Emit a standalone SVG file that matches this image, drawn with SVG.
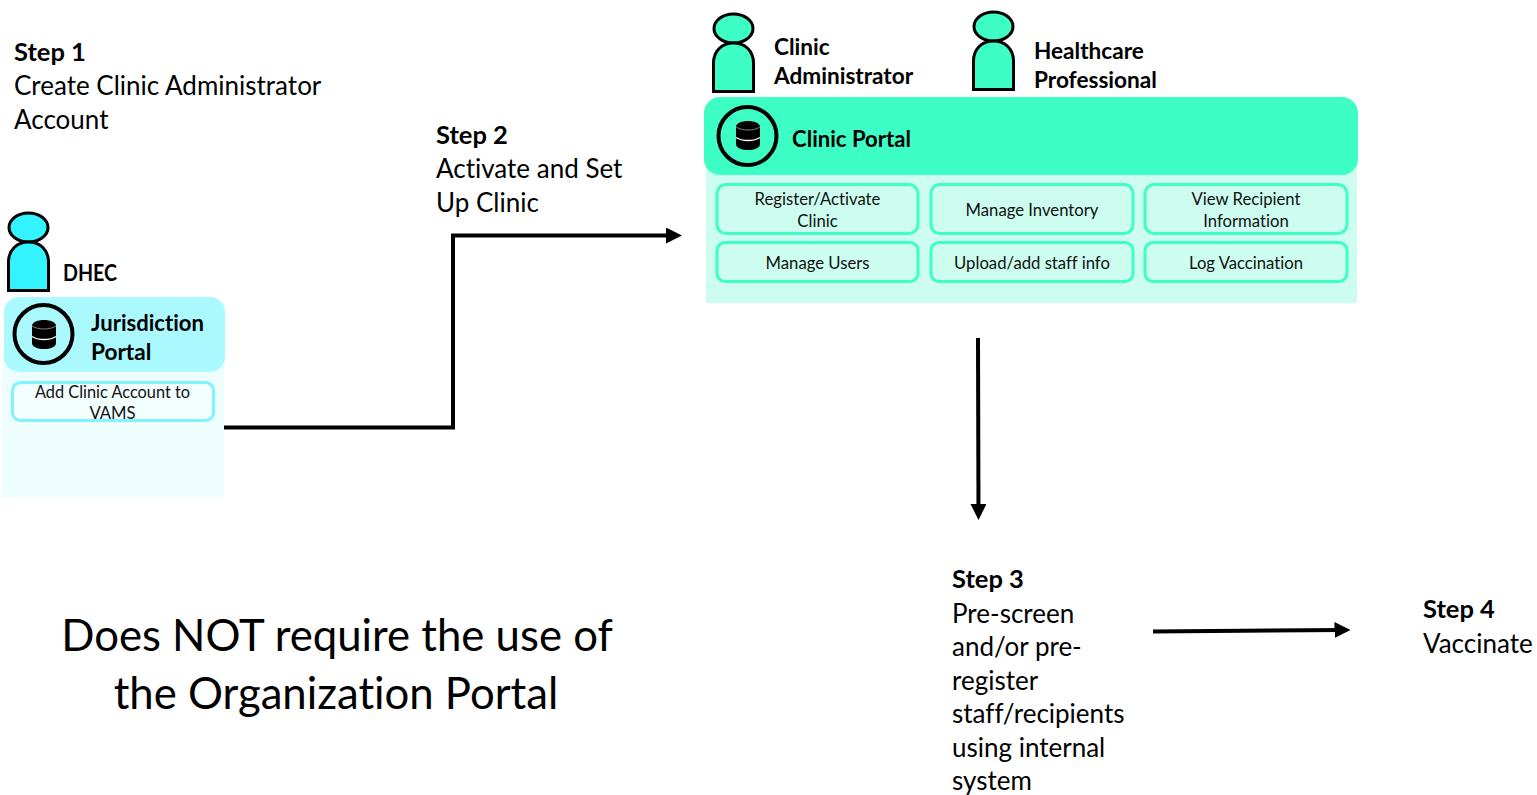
<svg xmlns="http://www.w3.org/2000/svg" width="1537" height="795" viewBox="0 0 1537 795">
<style>
text{font-family:Lato,"Liberation Sans",sans-serif;fill:#000;font-variant-ligatures:none}
.b{font-weight:700}
.h{font-size:22.600px}
.st{font-size:25.500px}
.t{font-size:26px}
.s{font-size:16.700px;text-anchor:middle;fill:#111}
.c{stroke:#000;stroke-width:4;fill:none}
.m{fill:#ccfdee;stroke:#3dffc5;stroke-width:3}
.p{stroke:#000;stroke-width:3}
.ring{fill:none;stroke:#000;stroke-width:4}
</style>
<defs>
<marker id="a" markerUnits="userSpaceOnUse" markerWidth="18" markerHeight="18" refX="8" refY="8" orient="auto"><path d="M0 0L16 8L0 16Z" fill="#000"/></marker>
<g id="db"><path d="M-12 -9C-12 -17 12 -17 12 -9V8C12 16 -12 16 -12 8Z" fill="#000"/><path d="M-12 1.500C-6 5.500 6 5.500 12 1.500" fill="none" stroke="#fff" stroke-width="1.500"/><path d="M-12 -9C-6 -5 6 -5 12 -9" fill="none" stroke="#fff" stroke-width="0.500"/></g>
<g id="person"><ellipse cx="20.500" cy="15.500" rx="19.500" ry="14.500"/><path d="M0.500 78.500V50C0.500 38 9 30 20.500 30S40.500 38 40.500 50V78.500Z"/></g>
</defs>

<g id="step1"><text class="st b" x="14" y="61">Step 1</text><text class="t" x="14" y="95">Create Clinic Administrator</text><text class="t" x="14" y="129">Account</text></g>
<g id="step2"><text class="st b" x="436" y="144">Step 2</text><text class="t" x="436" y="178">Activate and Set</text><text class="t" x="436" y="212">Up Clinic</text></g>
<g id="step3"><text class="st b" x="952" y="588">Step 3</text><text class="t" x="952" y="623">Pre-screen</text><text class="t" x="952" y="656">and/or pre-</text><text class="t" x="952" y="690">register</text><text class="t" x="952" y="723">staff/recipients</text><text class="t" x="952" y="757">using internal</text><text class="t" x="952" y="790">system</text></g>
<g id="step4"><text class="st b" x="1423" y="618">Step 4</text><text class="t" x="1423" y="653">Vaccinate</text></g>
<g id="note"><text x="337" y="651" font-size="43.700" text-anchor="middle">Does NOT require the use of</text><text x="336" y="709" font-size="43.700" text-anchor="middle">the Organization Portal</text></g>

<g id="dhec">
<use href="#person" x="8" y="212" fill="#33f3ff" class="p"/>
<text class="h b" x="63" y="281" textLength="54" lengthAdjust="spacingAndGlyphs">DHEC</text>
</g>
<g id="jurisdiction-portal">
<rect x="2" y="360" width="222" height="137" fill="#eefeff"/>
<rect x="4" y="297" width="221" height="75" rx="15" fill="#aaf9ff"/>
<circle cx="43.500" cy="334" r="29" class="ring"/>
<use href="#db" x="44" y="335"/>
<text class="h b" x="91" y="331" textLength="113" lengthAdjust="spacingAndGlyphs">Jurisdiction</text><text class="h b" x="91" y="360">Portal</text>
</g>
<g id="add-clinic">
<rect x="12.500" y="382.500" width="201" height="38" rx="8" fill="#f3feff" stroke="#80f3ff" stroke-width="3"/>
<text class="s" x="112.500" y="398" textLength="155" lengthAdjust="spacingAndGlyphs">Add Clinic Account to</text><text class="s" x="112.500" y="419">VAMS</text>
</g>

<g id="clinic-admin">
<use href="#person" x="713" y="13" fill="#3dffc5" class="p"/>
<text class="h b" x="774" y="55">Clinic</text><text class="h b" x="774" y="84">Administrator</text>
</g>
<g id="healthcare-pro">
<use href="#person" x="973" y="11" fill="#3dffc5" class="p"/>
<text class="h b" x="1034" y="59">Healthcare</text><text class="h b" x="1034" y="88">Professional</text>
</g>
<g id="clinic-portal">
<rect x="706" y="160" width="651" height="143" fill="#ccfdee"/>
<rect x="704" y="97" width="654" height="78" rx="16" fill="#3dffc5"/>
<circle cx="747.500" cy="136" r="29" class="ring"/>
<use href="#db" x="748" y="136"/>
<text class="h b" x="792" y="147" textLength="119" lengthAdjust="spacingAndGlyphs">Clinic Portal</text>
</g>
<g id="register"><rect x="717" y="184.500" width="201" height="49" rx="9" class="m"/><text class="s" x="817.500" y="205">Register/Activate</text><text class="s" x="817.500" y="227">Clinic</text></g>
<g id="inventory"><rect x="931" y="184.500" width="202" height="49" rx="9" class="m"/><text class="s" x="1032" y="216">Manage Inventory</text></g>
<g id="recipient"><rect x="1145" y="184.500" width="202" height="49" rx="9" class="m"/><text class="s" x="1246" y="205">View Recipient</text><text class="s" x="1246" y="227">Information</text></g>
<g id="users"><rect x="717" y="242.500" width="201" height="39" rx="8" class="m"/><text class="s" x="817.500" y="269">Manage Users</text></g>
<g id="upload"><rect x="931" y="242.500" width="202" height="39" rx="8" class="m"/><text class="s" x="1032" y="269">Upload/add staff info</text></g>
<g id="log"><rect x="1145" y="242.500" width="202" height="39" rx="8" class="m"/><text class="s" x="1246" y="269">Log Vaccination</text></g>

<g id="connectors">
<path class="c" marker-end="url(#a)" d="M224 427.500H453V235.500H674"/>
<path class="c" marker-end="url(#a)" d="M978 338L978.500 512"/>
<path class="c" marker-end="url(#a)" d="M1153 631.500L1342.500 630"/>
</g>
</svg>
